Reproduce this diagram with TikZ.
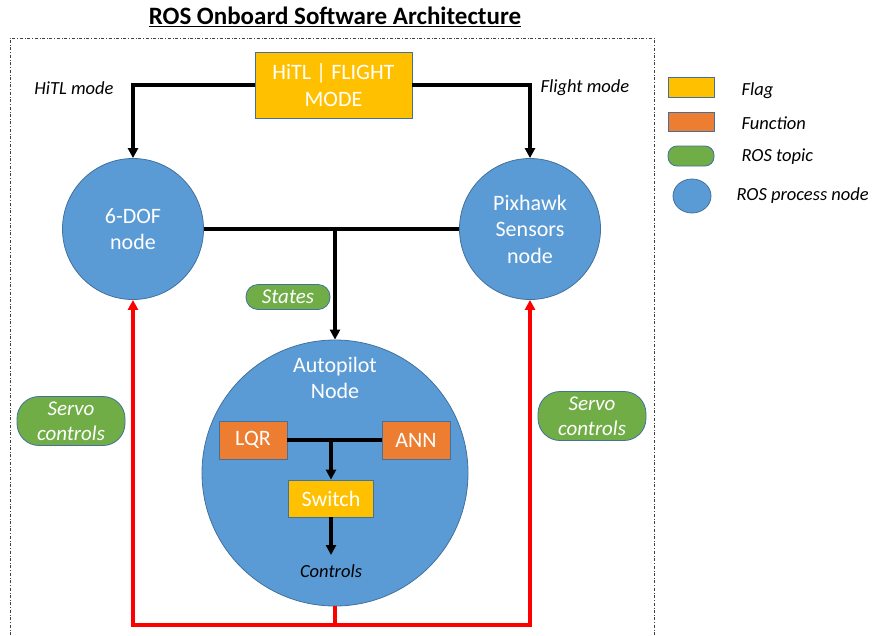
\documentclass[tikz,border=0pt]{standalone}
\usepackage{fontspec}
\setmainfont{Carlito}
\usetikzlibrary{arrows.meta,positioning,shapes.geometric}
\definecolor{procblue}{HTML}{5B9BD5}
\definecolor{edgeblue}{HTML}{41719C}
\definecolor{flaggold}{HTML}{FFC000}
\definecolor{funcorange}{HTML}{ED7D31}
\definecolor{topicgreen}{HTML}{70AD47}
\definecolor{framegray}{HTML}{404040}

\begin{document}
\begin{tikzpicture}[x=1pt,y=-1pt,>={Triangle[length=10pt,width=10pt]}]
\tikzset{proc/.style={circle,draw=edgeblue,fill=procblue,text=white,align=center,inner sep=0pt,line width=0.8pt,font=\fontsize{22}{26.5}\selectfont},
flagbox/.style={draw=edgeblue,fill=flaggold,text=white,align=center,inner sep=0pt,line width=0.8pt,font=\fontsize{22}{26.5}\selectfont},
funcbox/.style={draw=edgeblue,fill=funcorange,text=white,align=center,inner sep=0pt,line width=0.8pt,font=\fontsize{22}{26.5}\selectfont},
topic/.style={draw=edgeblue,fill=topicgreen,text=white,align=center,inner sep=0pt,line width=0.8pt,font=\fontsize{21}{25}\selectfont\itshape},
lbl/.style={font=\fontsize{18.5}{22}\selectfont\itshape},
link/.style={->,line width=3.2pt},
servo/.style={->,red,line width=3.2pt}}
\useasboundingbox (0,0) rectangle (872,635);
% title and frame
\node[font=\fontsize{25}{30}\selectfont\bfseries] (title) at (335,17) {\underline{ROS Onboard Software Architecture}};
\draw[framegray,dash dot,line width=0.8pt] (10,635) |- (654,38) -- (654,635);
% nodes
\node[flagbox,minimum width=157pt,minimum height=66pt] (mode) at (333.5,85) {HiTL | FLIGHT\\MODE};
\node[lbl] (hitl) at (74,88) {HiTL mode};
\node[lbl] (flight) at (585,88) {Flight mode};
\node[proc,minimum size=141pt] (dof) at (133,229) {6-DOF\\node};
\node[proc,minimum size=141pt] (pix) at (530,229) {Pixhawk\\Sensors\\node};
\node[topic,minimum width=84pt,minimum height=25pt,rounded corners=12pt] (states) at (288,297) {States};
\node[proc,minimum size=266pt] (auto) at (335,473) {};
\node[text=white,align=center,font=\fontsize{22}{26.5}\selectfont] (autotxt) at (335,378) {Autopilot\\Node};
\node[funcbox,minimum width=68pt,minimum height=38pt] (lqr) at (253,440) {LQR};
\node[funcbox,minimum width=68pt,minimum height=38pt] (ann) at (416,440) {ANN};
\node[flagbox,minimum width=85pt,minimum height=37pt] (switch) at (331,498.5) {Switch};
\node[lbl] (controls) at (331,571) {Controls};
\node[topic,minimum width=108pt,minimum height=49pt,rounded corners=22pt,font=\fontsize{21}{25}\selectfont\itshape] (servol) at (71,421) {Servo\\controls};
\node[topic,minimum width=108pt,minimum height=49pt,rounded corners=22pt,font=\fontsize{21}{25}\selectfont\itshape] (servor) at (592,416) {Servo\\controls};
% legend
\node[flagbox,minimum width=46pt,minimum height=20pt] (lflag) at (691,87) {};
\node[funcbox,minimum width=46pt,minimum height=19pt] (lfunc) at (691,121.5) {};
\node[topic,minimum width=46pt,minimum height=20pt,rounded corners=9pt] (ltopic) at (691,156) {};
\node[ellipse,draw=edgeblue,fill=procblue,line width=0.8pt,minimum width=38pt,minimum height=34pt] (lproc) at (692,196) {};
\node[lbl,anchor=west] (tflag) at (738,91) {Flag};
\node[lbl,anchor=west] (tfunc) at (738,123) {Function};
\node[lbl,anchor=west] (ttopic) at (738,157) {ROS topic};
\node[lbl,anchor=west] (tproc) at (733,196) {ROS process node};
% connectors
\draw[link] (mode.west) -| (dof.north);
\draw[link] (mode.east) -| (pix.north);
\coordinate (sjoin) at (auto.north |- dof.east);
\draw[line width=3.2pt] (dof.east) -- (pix.west);
\draw[link] (sjoin) -- (auto.north);
\coordinate (cjoin) at (switch.north |- lqr.east);
\draw[line width=3.2pt] (lqr.east) -- (ann.west);
\draw[link] (cjoin) -- (switch.north);
\coordinate (cend) at (331,555);
\draw[link] (switch.south) -- (cend);
\coordinate (rjoin) at (335,625);
\draw[red,line width=3.2pt] (auto.south) -- (rjoin);
\draw[servo] (rjoin) -| (dof.south);
\draw[servo] (rjoin) -| (pix.south);
\end{tikzpicture}
\end{document}
